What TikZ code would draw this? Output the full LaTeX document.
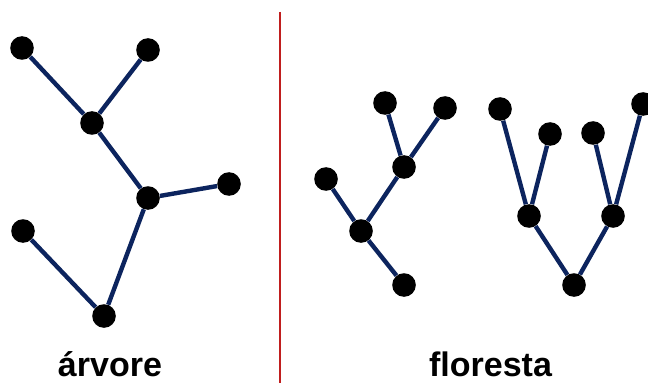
\documentclass[tikz,border=0pt]{standalone}
\usepackage{fontspec}
\setmainfont{Liberation Sans}
\usetikzlibrary{positioning}
\definecolor{edgeblue}{RGB}{12, 36, 94}
\definecolor{splitred}{RGB}{192, 30, 30}

\begin{document}
\begin{tikzpicture}[x=0.25mm, y=-0.25mm,
  vertex/.style={circle, fill=black, inner sep=0pt, minimum size=5.9mm},
  edge/.style={edgeblue, line width=1.1mm},
  caption/.style={font=\fontsize{24.2}{29}\selectfont\bfseries,
                  anchor=base, inner sep=0pt}]

% =====================================================================
% Frame: 648 x 383 px, one unit = one pixel, y grows downwards.
% =====================================================================
\useasboundingbox (0,0) rectangle (648,383);

% ===== LEFT: one tree (arvore) =====
\node[vertex] (a1) at (22, 48) {};
\node[vertex] (a2) at (148, 50) {};
\node[vertex] (a3) at (92, 123) {};
\node[vertex] (a4) at (148, 198) {};
\node[vertex] (a5) at (229, 184) {};
\node[vertex] (a6) at (23, 231) {};
\node[vertex] (a7) at (104, 316) {};

\draw[edge] (a1) -- (a3);
\draw[edge] (a2) -- (a3);
\draw[edge] (a3) -- (a4);
\draw[edge] (a4) -- (a5);
\draw[edge] (a4) -- (a7);
\draw[edge] (a6) -- (a7);

\node[caption] (arvore) at (110, 376) {árvore};

% ===== Separator =====
\coordinate (top) at (279.5, 12);
\coordinate (bottom) at (279.5, 383);
\draw[splitred, line width=0.5mm] (top) -- (bottom);

% ===== RIGHT: a forest of two trees (floresta) =====
% first tree
\node[vertex] (b1) at (385, 103) {};
\node[vertex] (b2) at (445, 108) {};
\node[vertex] (b3) at (404, 167) {};
\node[vertex] (b4) at (326, 179) {};
\node[vertex] (b5) at (361, 231) {};
\node[vertex] (b6) at (404, 285) {};

\draw[edge] (b1) -- (b3);
\draw[edge] (b2) -- (b3);
\draw[edge] (b3) -- (b5);
\draw[edge] (b4) -- (b5);
\draw[edge] (b5) -- (b6);

% second tree
\node[vertex] (c1) at (500, 109) {};
\node[vertex] (c2) at (550, 134) {};
\node[vertex] (c3) at (593, 133) {};
\node[vertex] (c4) at (643, 104) {};
\node[vertex] (c5) at (529, 216) {};
\node[vertex] (c6) at (613, 216) {};
\node[vertex] (c7) at (574, 285) {};

\draw[edge] (c1) -- (c5);
\draw[edge] (c2) -- (c5);
\draw[edge] (c3) -- (c6);
\draw[edge] (c4) -- (c6);
\draw[edge] (c5) -- (c7);
\draw[edge] (c6) -- (c7);

\node[caption] (floresta) at (490.5, 376) {floresta};

\end{tikzpicture}
\end{document}
